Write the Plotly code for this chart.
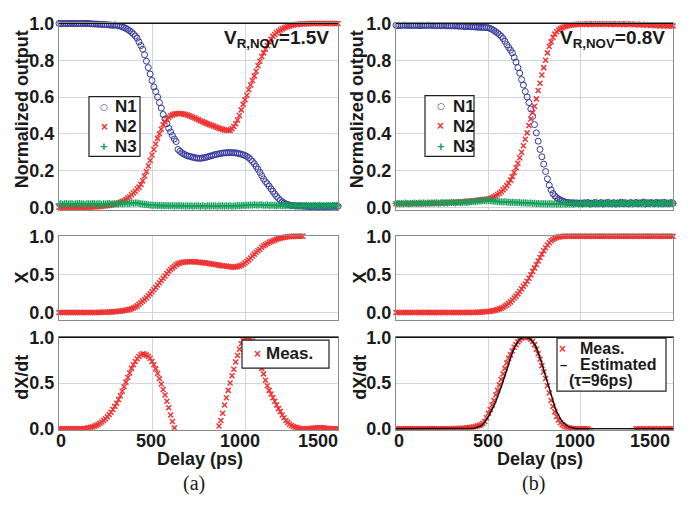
import plotly.graph_objects as go

W, H = 697, 508
SANS = "Liberation Sans"
SERIF = "Liberation Serif"

# ---------------------------------------------------------------- data
# Delay axis, sampled every 10 ps
DELAY = list(range(0, 1501, 10))

# (a) V_R,NOV = 1.5 V
N1_A = [
    1.0, 1.0, 1.0, 1.0, 1.0, 1.0, 1.0, 1.0, 1.0, 1.0,
    1.0, 1.0, 1.0, 1.0, 1.0, 1.0, 1.0, 0.998, 0.998, 0.997,
    0.997, 0.996, 0.996, 0.995, 0.995, 0.994, 0.993, 0.992, 0.991, 0.99,
    0.992, 0.99, 0.988, 0.985, 0.982, 0.978, 0.973, 0.967, 0.96, 0.952,
    0.943, 0.932, 0.92, 0.9, 0.88, 0.86, 0.83, 0.795, 0.76, 0.725,
    0.69, 0.655, 0.63, 0.6, 0.57, 0.54, 0.505, 0.48, 0.455, 0.43,
    0.41, 0.39, 0.372, 0.358, 0.315, 0.305, 0.297, 0.29, 0.285, 0.28,
    0.278, 0.275, 0.272, 0.27, 0.268, 0.267, 0.267, 0.268, 0.27, 0.272,
    0.275, 0.278, 0.281, 0.284, 0.287, 0.289, 0.291, 0.293, 0.295, 0.296,
    0.297, 0.298, 0.298, 0.297, 0.297, 0.296, 0.294, 0.292, 0.289, 0.286,
    0.282, 0.277, 0.27, 0.26, 0.25, 0.237, 0.222, 0.207, 0.19, 0.172,
    0.155, 0.14, 0.128, 0.115, 0.1, 0.087, 0.073, 0.06, 0.048, 0.038,
    0.03, 0.024, 0.018, 0.015, 0.012, 0.01, 0.01, 0.008, 0.008, 0.007,
    0.008, 0.006, 0.007, 0.005, 0.006, 0.004, 0.005, 0.006, 0.004, 0.005,
    0.004, 0.006, 0.005, 0.003, 0.005, 0.006, 0.004, 0.005, 0.007, 0.005,
    0.006,
]
N2_A = [
    0.0, 0.0, 0.0, 0.0, 0.0, 0.0, 0.0, 0.0, 0.0, 0.0,
    0.0, 0.0, 0.0, 0.0, 0.0, 0.001, 0.001, 0.002, 0.002, 0.003,
    0.003, 0.004, 0.005, 0.006, 0.007, 0.008, 0.01, 0.011, 0.013, 0.015,
    0.017, 0.02, 0.023, 0.027, 0.031, 0.036, 0.042, 0.05, 0.058, 0.068,
    0.078, 0.088, 0.1, 0.11, 0.125, 0.145, 0.17, 0.195, 0.225, 0.255,
    0.285, 0.315, 0.345, 0.375, 0.4, 0.425, 0.45, 0.465, 0.48, 0.49,
    0.498, 0.503, 0.507, 0.509, 0.51, 0.51, 0.509, 0.507, 0.505, 0.502,
    0.498, 0.494, 0.49, 0.486, 0.481, 0.476, 0.471, 0.467, 0.462, 0.458,
    0.454, 0.45, 0.446, 0.442, 0.438, 0.434, 0.43, 0.427, 0.424, 0.421,
    0.42, 0.418, 0.42, 0.428, 0.44, 0.455, 0.475, 0.5, 0.53, 0.56,
    0.585, 0.61, 0.64, 0.665, 0.69, 0.715, 0.74, 0.77, 0.795, 0.82,
    0.84, 0.86, 0.88, 0.9, 0.915, 0.93, 0.94, 0.95, 0.958, 0.965,
    0.97, 0.975, 0.98, 0.984, 0.987, 0.99, 0.992, 0.994, 0.995, 0.996,
    0.997, 0.998, 0.998, 0.999, 0.999, 1.0, 1.0, 1.0, 1.0, 1.0,
    1.0, 1.0, 1.0, 1.0, 1.0, 1.0, 1.0, 1.0, 1.0, 1.0,
    1.0,
]
N3_A = [
    0.018, 0.02, 0.017, 0.019, 0.021, 0.018, 0.02, 0.019, 0.017, 0.02,
    0.019, 0.021, 0.018, 0.02, 0.017, 0.019, 0.02, 0.018, 0.021, 0.019,
    0.018, 0.02, 0.019, 0.017, 0.02, 0.018, 0.019, 0.021, 0.018, 0.02,
    0.019, 0.02, 0.018, 0.021, 0.019, 0.02, 0.022, 0.02, 0.021, 0.023,
    0.022, 0.024, 0.023, 0.021, 0.02, 0.018, 0.017, 0.015, 0.014, 0.013,
    0.012, 0.011, 0.012, 0.01, 0.011, 0.009, 0.01, 0.008, 0.01, 0.009,
    0.008, 0.01, 0.007, 0.009, 0.008, 0.01, 0.007, 0.009, 0.006, 0.008,
    0.007, 0.009, 0.006, 0.008, 0.007, 0.009, 0.006, 0.008, 0.007, 0.006,
    0.008, 0.006, 0.009, 0.007, 0.008, 0.006, 0.009, 0.007, 0.008, 0.006,
    0.008, 0.007, 0.009, 0.006, 0.008, 0.007, 0.01, 0.008, 0.009, 0.011,
    0.01, 0.012, 0.011, 0.013, 0.012, 0.014, 0.013, 0.012, 0.014, 0.013,
    0.012, 0.011, 0.013, 0.01, 0.012, 0.011, 0.01, 0.009, 0.011, 0.01,
    0.009, 0.01, 0.008, 0.011, 0.009, 0.008, 0.01, 0.007, 0.009, 0.008,
    0.01, 0.008, 0.009, 0.011, 0.008, 0.01, 0.009, 0.012, 0.01, 0.009,
    0.011, 0.009, 0.01, 0.008, 0.012, 0.01, 0.009, 0.011, 0.01, 0.012,
    0.01,
]
# X is only available up to 1310 ps in (a)
X_A = [
    0.0, 0.0, 0.0, 0.0, 0.0, 0.0, 0.0, 0.0, 0.0, 0.0,
    0.0, 0.0, 0.0, 0.0, 0.0, 0.0, 0.001, 0.001, 0.001, 0.002,
    0.002, 0.002, 0.003, 0.003, 0.004, 0.005, 0.006, 0.007, 0.008, 0.01,
    0.012, 0.014, 0.016, 0.019, 0.022, 0.026, 0.03, 0.036, 0.042, 0.05,
    0.06, 0.072, 0.088, 0.108, 0.128, 0.15, 0.172, 0.195, 0.22, 0.245,
    0.272, 0.3, 0.33, 0.36, 0.39, 0.42, 0.45, 0.48, 0.51, 0.54,
    0.565, 0.585, 0.605, 0.625, 0.64, 0.65, 0.656, 0.66, 0.663, 0.665,
    0.666, 0.666, 0.665, 0.664, 0.662, 0.66, 0.657, 0.654, 0.651, 0.648,
    0.645, 0.641, 0.637, 0.633, 0.629, 0.625, 0.621, 0.617, 0.613, 0.61,
    0.608, 0.603, 0.599, 0.596, 0.595, 0.597, 0.602, 0.61, 0.62, 0.634,
    0.65, 0.668, 0.69, 0.715, 0.74, 0.765, 0.79, 0.81, 0.83, 0.855,
    0.875, 0.89, 0.905, 0.92, 0.93, 0.94, 0.95, 0.96, 0.968, 0.975,
    0.98, 0.985, 0.99, 0.993, 0.995, 0.997, 0.998, 0.999, 1.0, 1.0,
    1.0, 1.0,
]
DXDT_A = [
    0.0, 0.0, 0.0, 0.0, 0.0, 0.0, 0.0, 0.0, 0.0, 0.0,
    0.0, 0.0, 0.0, 0.002, 0.004, 0.006, 0.01, 0.015, 0.02, 0.028,
    0.037, 0.047, 0.06, 0.075, 0.092, 0.11, 0.13, 0.155, 0.18, 0.21,
    0.245, 0.28, 0.32, 0.36, 0.41, 0.46, 0.51, 0.56, 0.61, 0.66,
    0.7, 0.735, 0.765, 0.79, 0.81, 0.82, 0.815, 0.805, 0.79, 0.77,
    0.735, 0.7, 0.655, 0.605, 0.55, 0.49, 0.43, 0.37, 0.3, 0.23,
    0.15, 0.08, 0.01, -0.06, -0.12, -0.17, -0.2, -0.22, -0.23, -0.23,
    -0.22, -0.2, -0.18, -0.16, -0.14, -0.12, -0.1, -0.09, -0.08, -0.08,
    -0.08, -0.09, -0.1, -0.1, -0.09, -0.04, 0.03, 0.09, 0.17, 0.26,
    0.34, 0.42, 0.5, 0.58, 0.65, 0.73, 0.8, 0.87, 0.93, 0.97,
    0.99, 1.0, 1.0, 0.99, 0.96, 0.9, 0.84, 0.78, 0.72, 0.66,
    0.6, 0.53, 0.47, 0.42, 0.38, 0.34, 0.3, 0.26, 0.22, 0.19,
    0.15, 0.12, 0.09, 0.07, 0.05, 0.035, 0.025, 0.015, 0.01, 0.005,
    0.0, 0.0, -0.002, 0.0, 0.002, 0.004, 0.006, 0.008, 0.01, 0.012,
    0.013, 0.012, 0.01, 0.008, 0.005, 0.003, 0.001, 0.0, 0.0, 0.0,
    0.0,
]

# (b) V_R,NOV = 0.8 V
N1_B = [
    0.99, 0.988, 0.99, 0.989, 0.99, 0.991, 0.99, 0.989, 0.99, 0.99,
    0.989, 0.99, 0.99, 0.988, 0.99, 0.99, 0.989, 0.99, 0.991, 0.99,
    0.99, 0.989, 0.988, 0.99, 0.989, 0.988, 0.99, 0.988, 0.987, 0.988,
    0.987, 0.988, 0.986, 0.987, 0.985, 0.986, 0.985, 0.984, 0.983, 0.984,
    0.983, 0.982, 0.982, 0.981, 0.98, 0.98, 0.979, 0.979, 0.978, 0.978,
    0.977, 0.973, 0.968, 0.962, 0.955, 0.948, 0.94, 0.93, 0.918, 0.903,
    0.885, 0.87, 0.855, 0.84, 0.815, 0.79, 0.76, 0.73, 0.695, 0.665,
    0.63, 0.6, 0.57, 0.535, 0.495, 0.45, 0.405, 0.36, 0.315, 0.275,
    0.235, 0.195, 0.155, 0.12, 0.095, 0.075, 0.062, 0.053, 0.046, 0.04,
    0.035, 0.031, 0.028, 0.026, 0.025, 0.024, 0.025, 0.023, 0.024, 0.022,
    0.024, 0.02, 0.025, 0.022, 0.026, 0.019, 0.023, 0.021, 0.027, 0.02,
    0.022, 0.026, 0.019, 0.024, 0.021, 0.027, 0.02, 0.023, 0.025, 0.018,
    0.024, 0.021, 0.028, 0.02, 0.025, 0.022, 0.019, 0.026, 0.023, 0.021,
    0.027, 0.02, 0.024, 0.022, 0.029, 0.019, 0.025, 0.021, 0.026, 0.023,
    0.02, 0.027, 0.022, 0.025, 0.019, 0.028, 0.021, 0.024, 0.02, 0.026,
    0.022,
]
N2_B = [
    0.02, 0.021, 0.02, 0.019, 0.02, 0.021, 0.02, 0.02, 0.019, 0.021,
    0.02, 0.021, 0.02, 0.02, 0.021, 0.02, 0.021, 0.022, 0.021, 0.022,
    0.022, 0.023, 0.022, 0.023, 0.024, 0.023, 0.024, 0.025, 0.025, 0.026,
    0.026, 0.027, 0.027, 0.028, 0.029, 0.029, 0.03, 0.031, 0.032, 0.033,
    0.034, 0.035, 0.036, 0.037, 0.038, 0.04, 0.041, 0.042, 0.043, 0.044,
    0.045, 0.048, 0.052, 0.057, 0.063, 0.07, 0.077, 0.085, 0.095, 0.105,
    0.118, 0.132, 0.148, 0.167, 0.19, 0.215, 0.24, 0.27, 0.3, 0.335,
    0.37, 0.405, 0.445, 0.48, 0.515, 0.55, 0.59, 0.635, 0.675, 0.72,
    0.76, 0.8, 0.84, 0.875, 0.9, 0.925, 0.942, 0.955, 0.965, 0.972,
    0.977, 0.981, 0.985, 0.988, 0.99, 0.992, 0.993, 0.994, 0.995, 0.995,
    0.996, 0.994, 0.997, 0.995, 0.998, 0.994, 0.996, 0.999, 0.995, 0.997,
    0.995, 0.998, 0.996, 0.999, 0.994, 0.997, 0.995, 0.998, 0.996, 0.994,
    0.997, 0.995, 0.999, 0.993, 0.996, 0.998, 0.994, 0.997, 0.995, 0.993,
    0.996, 0.994, 0.992, 0.995, 0.991, 0.994, 0.99, 0.993, 0.989, 0.992,
    0.99, 0.988, 0.991, 0.987, 0.99, 0.986, 0.989, 0.985, 0.988, 0.986,
    0.987,
]
N3_B = [
    0.02, 0.022, 0.019, 0.021, 0.02, 0.023, 0.021, 0.02, 0.022, 0.021,
    0.023, 0.021, 0.022, 0.024, 0.022, 0.023, 0.021, 0.024, 0.022, 0.023,
    0.024, 0.023, 0.025, 0.022, 0.024, 0.026, 0.023, 0.025, 0.024, 0.026,
    0.025, 0.027, 0.024, 0.026, 0.028, 0.025, 0.027, 0.029, 0.026, 0.028,
    0.029, 0.03, 0.032, 0.031, 0.033, 0.035, 0.034, 0.036, 0.037, 0.036,
    0.038, 0.036, 0.035, 0.033, 0.034, 0.032, 0.03, 0.031, 0.029, 0.03,
    0.028, 0.029, 0.027, 0.028, 0.026, 0.027, 0.025, 0.026, 0.024, 0.025,
    0.023, 0.024, 0.022, 0.023, 0.021, 0.022, 0.02, 0.021, 0.019, 0.02,
    0.019, 0.02, 0.018, 0.019, 0.02, 0.018, 0.019, 0.017, 0.019, 0.018,
    0.018, 0.02, 0.017, 0.019, 0.018, 0.02, 0.017, 0.019, 0.021, 0.018,
    0.02, 0.018, 0.022, 0.019, 0.021, 0.017, 0.02, 0.023, 0.018, 0.021,
    0.019, 0.022, 0.018, 0.02, 0.024, 0.019, 0.021, 0.018, 0.023, 0.02,
    0.022, 0.018, 0.021, 0.025, 0.019, 0.022, 0.02, 0.024, 0.018, 0.021,
    0.023, 0.019, 0.022, 0.02, 0.026, 0.018, 0.021, 0.024, 0.019, 0.022,
    0.02, 0.024, 0.018, 0.022, 0.025, 0.019, 0.023, 0.02, 0.021, 0.024,
    0.02,
]
X_B = [
    0.0, 0.0, 0.0, 0.0, 0.0, 0.0, 0.0, 0.0, 0.0, 0.0,
    0.0, 0.0, 0.0, 0.0, 0.0, 0.0, 0.0, 0.0, 0.0, 0.0,
    0.0, 0.0, 0.0, 0.0, 0.0, 0.0, 0.0, 0.0, 0.0, 0.0,
    0.0, 0.0, 0.0, 0.0, 0.0, 0.0, 0.0, 0.0, 0.0, 0.0,
    0.0, 0.001, 0.002, 0.003, 0.004, 0.005, 0.006, 0.008, 0.01, 0.012,
    0.014, 0.017, 0.021, 0.026, 0.032, 0.04, 0.048, 0.057, 0.07, 0.085,
    0.1, 0.12, 0.14, 0.165, 0.19, 0.215, 0.245, 0.275, 0.31, 0.345,
    0.375, 0.41, 0.45, 0.495, 0.54, 0.585, 0.63, 0.675, 0.72, 0.765,
    0.81, 0.85, 0.885, 0.915, 0.94, 0.958, 0.972, 0.982, 0.989, 0.994,
    0.997, 0.999, 1.0, 1.0, 1.0, 1.0, 1.0, 1.0, 1.0, 1.0,
    1.0, 1.0, 1.0, 1.0, 1.0, 1.0, 1.0, 1.0, 1.0, 1.0,
    1.0, 1.0, 1.0, 1.0, 1.0, 1.0, 1.0, 1.0, 1.0, 1.0,
    1.0, 1.0, 1.0, 1.0, 1.0, 1.0, 1.0, 1.0, 1.0, 1.0,
    1.0, 1.0, 1.0, 1.0, 1.0, 1.0, 1.0, 1.0, 1.0, 1.0,
    1.0, 1.0, 1.0, 1.0, 1.0, 1.0, 1.0, 1.0, 1.0, 1.0,
    1.0,
]
DXDT_B = [
    0.0, 0.0, 0.0, 0.0, 0.0, 0.0, 0.0, 0.0, 0.0, 0.0,
    0.0, 0.0, 0.0, 0.0, 0.0, 0.0, 0.0, 0.0, 0.0, 0.0,
    0.0, 0.0, 0.0, 0.0, 0.0, 0.0, 0.0, 0.0, 0.0, 0.0,
    0.0, 0.001, 0.002, 0.002, 0.003, 0.004, 0.005, 0.007, 0.009, 0.011,
    0.014, 0.017, 0.02, 0.025, 0.03, 0.035, 0.045, 0.06, 0.08, 0.12,
    0.17, 0.21, 0.26, 0.31, 0.37, 0.42, 0.48, 0.54, 0.6, 0.66,
    0.72, 0.77, 0.81, 0.85, 0.89, 0.92, 0.95, 0.97, 0.99, 1.0,
    1.0, 1.0, 0.995, 0.98, 0.955, 0.92, 0.87, 0.82, 0.76, 0.69,
    0.62, 0.55, 0.47, 0.39, 0.31, 0.245, 0.185, 0.135, 0.095, 0.065,
    0.045, 0.03, 0.02, 0.012, 0.007, 0.004, 0.002, 0.001, 0.0, 0.0,
    0.0, 0.0, 0.0, 0.0, 0.0, -0.03, -0.05, -0.05, -0.05, -0.05,
    -0.05, -0.05, -0.05, -0.05, -0.05, -0.05, -0.05, -0.05, -0.05, -0.05,
    -0.05, -0.05, -0.05, -0.05, -0.05, -0.05, -0.05, -0.04, -0.04, -0.04,
    0.0, 0.0, 0.0, -0.04, 0.0, 0.0, 0.0, -0.04, 0.0, 0.0,
    0.0, -0.04, 0.0, 0.0, 0.0, -0.04, 0.0, 0.0, 0.0, 0.0,
    0.0,
]
# fitted rate curve, tau = 96 ps
EST_B = [
    0.0, 0.0, 0.0, 0.0, 0.0, 0.0, 0.0, 0.0, 0.0, 0.0,
    0.0, 0.0, 0.0, 0.0, 0.0, 0.0, 0.0, 0.0, 0.0, 0.0,
    0.0, 0.0, 0.0, 0.0, 0.0, 0.0, 0.0, 0.0, 0.0, 0.0,
    0.0, 0.0, 0.0, 0.0, 0.0, 0.0, 0.0, 0.0, 0.0, 0.0,
    0.0, 0.003, 0.006, 0.01, 0.016, 0.02, 0.03, 0.045, 0.068, 0.1,
    0.13, 0.165, 0.205, 0.25, 0.295, 0.345, 0.4, 0.46, 0.52, 0.585,
    0.65, 0.71, 0.77, 0.83, 0.88, 0.92, 0.955, 0.98, 0.995, 1.0,
    1.0, 0.997, 0.99, 0.975, 0.955, 0.925, 0.885, 0.835, 0.775, 0.71,
    0.64, 0.57, 0.5, 0.43, 0.36, 0.3, 0.24, 0.19, 0.145, 0.11,
    0.08, 0.06, 0.04, 0.028, 0.018, 0.011, 0.006, 0.003, 0.001, 0.0,
    0.0, 0.0, 0.0, 0.0, 0.0, 0.0, 0.0, 0.0, 0.0, 0.0,
    0.0, 0.0, 0.0, 0.0, 0.0, 0.0, 0.0, 0.0, 0.0, 0.0,
    0.0, 0.0, 0.0, 0.0, 0.0, 0.0, 0.0, 0.0, 0.0, 0.0,
    0.0, 0.0, 0.0, 0.0, 0.0, 0.0, 0.0, 0.0, 0.0, 0.0,
    0.0, 0.0, 0.0, 0.0, 0.0, 0.0, 0.0, 0.0, 0.0, 0.0,
    0.0,
]

X_TICKS = [0, 500, 1000, 1500]
Y_TICKS_TOP = [0.0, 0.2, 0.4, 0.6, 0.8, 1.0]
Y_TICKS_LOW = [0.0, 0.5, 1.0]

# ---------------------------------------------------------------- styles
BLUE = "#34379c"
RED = "#ee3434"
GREEN = "#17a05a"
GRID = "#d3d5dc"
FRAME = "#8a8a8a"
INK = "#1a1a1a"

N1_MARK = dict(symbol="circle-open", size=6, color=BLUE, line=dict(width=1, color=BLUE))
N2_MARK = dict(symbol="x-thin-open", size=5, color=RED, line=dict(width=1.5, color=RED))
N3_MARK = dict(symbol="cross-thin-open", size=5, color=GREEN, line=dict(width=1.4, color=GREEN))

X_RANGE = [0, 1500]
Y_RANGE = {1: [-0.012, 1.0], 2: [-0.093, 1.0], 3: [-0.01, 1.0]}


def fx(p):
    return p / W


def fy(p):
    return 1 - p / H


# panel extents in pixels (left, right) and (top, bottom)
COL_PX = {"A": (59, 338), "B": (396, 673)}
ROW_PX = {1: (14, 207.3), 2: (235, 321.7), 3: (340, 436)}

COL_A = [fx(COL_PX["A"][0]), fx(COL_PX["A"][1])]
COL_B = [fx(COL_PX["B"][0]), fx(COL_PX["B"][1])]
ROW1 = [fy(ROW_PX[1][1]), fy(ROW_PX[1][0])]
ROW2 = [fy(ROW_PX[2][1]), fy(ROW_PX[2][0])]
ROW3 = [fy(ROW_PX[3][1]), fy(ROW_PX[3][0])]

fig = go.Figure()


def add(x, y, mark, xa, ya, clip=False):
    fig.add_trace(go.Scatter(
        x=x, y=y, mode="markers", marker=mark,
        xaxis=xa, yaxis=ya, cliponaxis=clip, showlegend=False,
    ))


# row 1: normalized outputs
add(DELAY, N1_A, N1_MARK, "x", "y")
add(DELAY, N2_A, N2_MARK, "x", "y")
add(DELAY, N3_A, N3_MARK, "x", "y")
add(DELAY, N1_B, N1_MARK, "x2", "y2")
add(DELAY, N2_B, N2_MARK, "x2", "y2")
add(DELAY, N3_B, N3_MARK, "x2", "y2")

# row 2: X
add(DELAY[:len(X_A)], X_A, N2_MARK, "x3", "y3")
add(DELAY, X_B, N2_MARK, "x4", "y4")

# row 3: dX/dt
add(DELAY, DXDT_A, N2_MARK, "x5", "y5", clip=True)
add(DELAY, DXDT_B, N2_MARK, "x6", "y6", clip=True)
fig.add_trace(go.Scatter(
    x=DELAY, y=EST_B, mode="lines", line=dict(color="#111111", width=1.5),
    xaxis="x6", yaxis="y6", showlegend=False,
))

# ---------------------------------------------------------------- axes
tick_font = dict(family=SANS, size=18, color=INK, weight="bold")


def xaxis(domain, anchor):
    return dict(
        domain=domain, anchor=anchor, range=X_RANGE,
        tickvals=X_TICKS, showticklabels=False, ticks="",
        showgrid=True, gridcolor=GRID, gridwidth=1, zeroline=False,
        showline=True, mirror=True, linecolor=FRAME, linewidth=1,
    )


def yaxis(domain, anchor, rng, tickvals):
    return dict(
        domain=domain, anchor=anchor, range=rng,
        tickvals=tickvals, tickformat=".1f", ticks="",
        showgrid=True, gridcolor=GRID, gridwidth=1, zeroline=False,
        showline=True, mirror=True, linecolor=FRAME, linewidth=1,
        tickfont=tick_font,
    )


fig.update_layout(
    xaxis=xaxis(COL_A, "y"),
    yaxis=yaxis(ROW1, "x", Y_RANGE[1], Y_TICKS_TOP),
    xaxis2=xaxis(COL_B, "y2"),
    yaxis2=yaxis(ROW1, "x2", Y_RANGE[1], Y_TICKS_TOP),
    xaxis3=xaxis(COL_A, "y3"),
    yaxis3=yaxis(ROW2, "x3", Y_RANGE[2], Y_TICKS_LOW),
    xaxis4=xaxis(COL_B, "y4"),
    yaxis4=yaxis(ROW2, "x4", Y_RANGE[2], Y_TICKS_LOW),
    xaxis5=xaxis(COL_A, "y5"),
    yaxis5=yaxis(ROW3, "x5", Y_RANGE[3], Y_TICKS_LOW),
    xaxis6=xaxis(COL_B, "y6"),
    yaxis6=yaxis(ROW3, "x6", Y_RANGE[3], Y_TICKS_LOW),
)

shapes = []
ann = []


def text(t, x, y, font, angle=0, xanchor="center", xref="paper", xshift=0):
    ann.append(dict(
        text=t, x=x if xref != "paper" else fx(x), y=fy(y),
        xref=xref, yref="paper", xanchor=xanchor, yanchor="middle",
        showarrow=False, font=font, textangle=angle, xshift=xshift,
    ))


def key_box(xa, ya, col, row, x0, y0, x1, y1):
    # white framed key panel, placed relative to its subplot
    l, r = COL_PX[col]
    t, b = ROW_PX[row]
    rx = lambda p: (p - l) / (r - l)
    ry = lambda p: (b - p) / (b - t)
    shapes.append(dict(
        type="rect", xref=f"{xa} domain", yref=f"{ya} domain",
        x0=rx(x0), x1=rx(x1), y0=ry(y1), y1=ry(y0),
        fillcolor="white", line=dict(color="#222222", width=1.2), layer="above",
    ))


# ---------------------------------------------------------------- legends
leg_font = dict(family=SANS, size=17, color=INK, weight="bold")
leg_font_small = dict(family=SANS, size=16, color=INK, weight="bold")
KEY_FONTS = {
    "N1": dict(family="DejaVu Sans", size=9, color=BLUE),
    "N2": dict(family=SANS, size=12, color=RED, weight="bold"),
    "N3": dict(family=SANS, size=13, color=GREEN, weight="bold"),
    "EST": dict(family=SANS, size=13, color="#111111", weight="bold"),
}
KEY_GLYPHS = {"N1": "\u25cb", "N2": "\u00d7", "N3": "+", "EST": "\u2013"}

# (subplot, box, font, [(key, label, key_x, text_x, y), ...])
LEGENDS = [
    (("x", "y", "A", 1), (89, 90, 140, 152), leg_font,
     [("N1", "N1", 104, 113, 100.5), ("N2", "N2", 104, 113, 121.5),
      ("N3", "N3", 104, 113, 142)]),
    (("x2", "y2", "B", 1), (425, 89, 474, 152), leg_font,
     [("N1", "N1", 440.5, 451, 100), ("N2", "N2", 440.5, 451, 121),
      ("N3", "N3", 440.5, 451, 142)]),
    (("x5", "y5", "A", 3), (242, 343, 329, 372), leg_font,
     [("N2", "Meas.", 257, 264, 357)]),
    (("x6", "y6", "B", 3), (557, 341, 666, 396), leg_font_small,
     [("N2", "Meas.", 562, 578, 352), ("EST", "Estimated", 563, 578, 368.5),
      (None, "(\u03c4=96ps)", None, 567, 384.5)]),
]

for (xa, ya, col, row), (x0, y0, x1, y1), lfont, entries in LEGENDS:
    key_box(xa, ya, col, row, x0, y0, x1, y1)
    for key, label, kx, tx, y in entries:
        if key is not None:
            text(KEY_GLYPHS[key], kx, y, KEY_FONTS[key])
        text(label, tx, y, lfont, xanchor="left")

# dark top edges of the upper and lower panels
for xa, ya in [("x", "y"), ("x2", "y2"), ("x5", "y5"), ("x6", "y6")]:
    shapes.append(dict(
        type="line", xref=f"{xa} domain", yref=f"{ya} domain",
        x0=0, x1=1, y0=1, y1=1, line=dict(color="#111111", width=1.2), layer="above",
    ))

# ---------------------------------------------------------------- text
title_font = dict(family=SANS, size=18, color=INK, weight="bold")

text("Normalized output", 22, 103, title_font, -90)
text("X", 22, 278, title_font, -90)
text("dX/dt", 22, 382, title_font, -90)
text("Normalized output", 357, 103, title_font, -90)
text("X", 360, 278, title_font, -90)
text("dX/dt", 360, 382, title_font, -90)

# delay tick labels under the bottom panels
TICK_SHIFT_A = [2, -1, -5, -20]
TICK_SHIFT_B = [3, 0, -6, -23]
for xa, shifts in [("x5", TICK_SHIFT_A), ("x6", TICK_SHIFT_B)]:
    for v, s in zip(X_TICKS, shifts):
        text(str(v), v, 448, tick_font, xref=xa, xshift=s)

text("Delay (ps)", 200, 466, title_font)
text("Delay (ps)", 540, 466, title_font)

v_font = dict(family=SANS, size=19, color=INK, weight="bold")
text("V<sub>R,NOV</sub>=1.5V", 331, 30, v_font, xanchor="right")
text("V<sub>R,NOV</sub>=0.8V", 667, 30, v_font, xanchor="right")

cap_font = dict(family=SERIF, size=20, color=INK)
text("(a)", 194, 492, cap_font)
text("(b)", 533, 492, cap_font)

fig.update_layout(
    width=W, height=H,
    margin=dict(l=0, r=0, t=0, b=0),
    paper_bgcolor="white", plot_bgcolor="white",
    shapes=shapes, annotations=ann, showlegend=False,
    font=dict(family=SANS, color=INK),
)

fig.write_html("out.html")
